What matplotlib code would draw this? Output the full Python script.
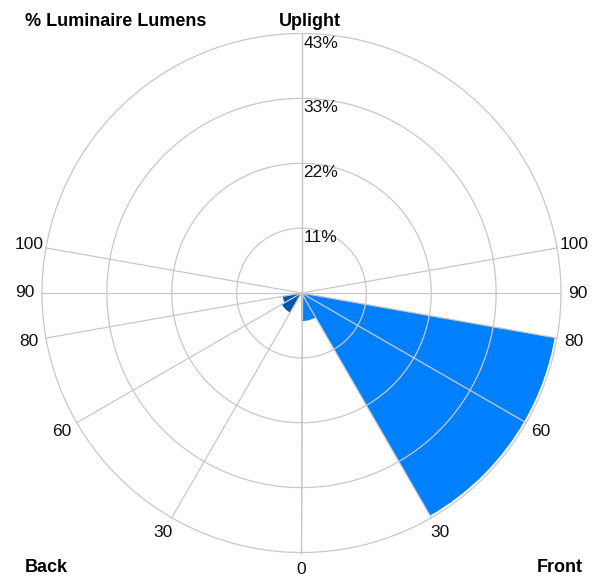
import numpy as np
import matplotlib
matplotlib.use("Agg")
from matplotlib import pyplot as plt

# LCS zones (degrees from nadir) and % luminaire lumens per zone
ZONE_EDGES = [0, 30, 60, 80, 90, 100, 180]
FRONT_PCT = [4.7, 43.0, 43.0, 0.0, 0.0, 0.0]
BACK_PCT = [0.0, 3.8, 3.2, 0.0, 0.0, 0.0]

RING_VALUES = [10.85, 21.7, 32.55, 43.4]
RING_LABELS = ["11%", "22%", "33%", "43%"]
SPOKE_ANGLES = [0, 30, 60, 80, 90, 100]
SPOKE_LABELS = ["0", "30", "60", "80", "90", "100"]

W, H = 603, 579
CX, CY, R = 301.5, 293.0, 259.5
GRID = "#c8c8c8"
plt.rcParams["font.family"] = ["Liberation Sans", "DejaVu Sans"]

fig = plt.figure(figsize=(W / 100, H / 100), dpi=100)
ax = fig.add_axes(
    [(CX - R) / W, (H - CY - R) / H, 2 * R / W, 2 * R / H], projection="polar"
)
ax.set_theta_zero_location("S")
ax.set_theta_direction(1)
rmax = RING_VALUES[-1]
ax.set_ylim(0, rmax)
ax.grid(False)
ax.set_xticks([])
ax.set_yticks([])
ax.spines["polar"].set_visible(False)

# wedges
edges = np.deg2rad(ZONE_EDGES)
widths = np.diff(edges)
centers = edges[:-1] + widths / 2
ax.bar(centers, FRONT_PCT, width=widths, bottom=0, align="center",
       color="#0080ff", edgecolor="none", zorder=2)
ax.bar(-centers, BACK_PCT, width=widths, bottom=0, align="center",
       color="#0055b0", edgecolor="none", zorder=2)

# grid rings and spokes
t = np.linspace(0, 2 * np.pi, 400)
for rv in RING_VALUES:
    ax.plot(t, np.full_like(t, rv), color=GRID, lw=0.9, zorder=3, clip_on=False)
for a in SPOKE_ANGLES + [180]:
    for s in (1, -1):
        ax.plot([0, s * np.deg2rad(a)], [0, rmax], color=GRID, lw=0.9, zorder=3,
                clip_on=False)

# ring labels along the uplight spoke
for rv, lab in zip(RING_VALUES, RING_LABELS):
    ax.annotate(lab, xy=(np.pi, rv), xytext=(1.5, -1.5), textcoords="offset points",
                ha="left", va="top", fontsize=12.5, color="#111111", zorder=4)

# angle labels outside the circle
for a, lab in zip(SPOKE_ANGLES, SPOKE_LABELS):
    for s in ((1, -1) if a else (1,)):
        ax.text(s * np.deg2rad(a), rmax * 1.066, lab, ha="center", va="center",
                fontsize=12.5, color="#111111", clip_on=False)

bold = dict(fontsize=13, fontweight="bold", color="black")
fig.text(25 / W, 1 - 21 / H, "% Luminaire Lumens", ha="left", va="center", **bold)
fig.text(310 / W, 1 - 21 / H, "Uplight", ha="center", va="center", **bold)
fig.text(25 / W, 1 - 568 / H, "Back", ha="left", va="center", **bold)
fig.text(583 / W, 1 - 568 / H, "Front", ha="right", va="center", **bold)

fig.savefig("out.png", dpi=100, facecolor="white")
